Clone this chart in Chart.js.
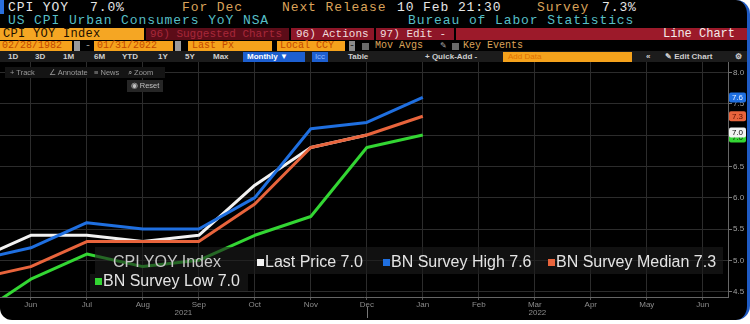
<!DOCTYPE html>
<html>
<head>
<meta charset="utf-8">
<script src="https://cdn.jsdelivr.net/npm/chart.js@4.4.1/dist/chart.umd.min.js"></script>
<style>
  html, body { margin: 0; padding: 0; background: #fff; }
  body { width: 750px; height: 324px; overflow: hidden; position: relative; }
  .panel { position: absolute; left: 0; top: 0; width: 747px; height: 320px; background: #000;
           border-right: 3px solid #1f5bc4; border-radius: 0 14px 14px 12px; overflow: hidden; }
  .t { position: absolute; white-space: nowrap; }
  .mono { font-family: "Liberation Mono", "DejaVu Sans Mono", monospace; }
  .sans { font-family: "Liberation Sans", Arial, sans-serif; }
  .r1 { top: 1px; line-height: 14px; font-size: 13px; letter-spacing: 0.9px; }
  .r2 { top: 14px; line-height: 14px; font-size: 13px; letter-spacing: 0.9px; color: #56bfc6; }
  .wh { color: #e6e6e6; }
  .tan { color: #dba35a; }
  .box { position: absolute; }
  .r3 { top: 28px; height: 12px; line-height: 12px; font-size: 11px; }
  .r4 { top: 41px; height: 10px; line-height: 10px; font-size: 10px; }
  .orng { background: #f5a21c; color: #c44800; }
  .r5 { top: 52px; line-height: 10px; font-size: 8px; color: #cfcfcf; font-weight: bold; }
  .tool { font-size: 7.5px; color: #9a9a9a; line-height: 11px; }
  #wrap { position: absolute; left: 0; top: 62px; width: 750px; height: 258px; }
  .leg { font-family: "Liberation Sans", Arial, sans-serif; font-size: 16px; color: #e4e4e4; line-height: 18px; }
  .sq { display: inline-block; width: 7px; height: 7px; margin-right: 1px; vertical-align: 1px; }
  .legbg { position: absolute; background: rgba(28, 28, 28, 0.6); }
</style>
</head>
<body>
<div class="panel">
  <div class="box" style="left:0;top:0;width:4px;height:14px;background:#2a70e0"></div>

  <!-- header row 1 -->
  <span class="t mono r1 wh" style="left:8px">CPI YOY</span>
  <span class="t mono r1 wh" style="left:90px">7.0%</span>
  <span class="t mono r1 tan" style="left:182px">For Dec</span>
  <span class="t mono r1 tan" style="left:282px">Next Release</span>
  <span class="t mono r1 wh" style="left:397px">10 Feb 21:30</span>
  <span class="t mono r1 tan" style="left:537px">Survey</span>
  <span class="t mono r1 wh" style="left:602px">7.3%</span>

  <!-- header row 2 -->
  <span class="t mono r2" style="left:8px">US CPI Urban Consumers YoY NSA</span>
  <span class="t mono r2" style="left:408px">Bureau of Labor Statistics</span>

  <!-- header row 3 -->
  <div class="box mono r3" style="left:0;width:144px;background:#f5a623;color:#1a0f00;font-size:12px;letter-spacing:0.3px;padding-left:3px;box-sizing:border-box">CPI YOY Index</div>
  <div class="box mono r3" style="left:146px;width:143px;background:#5c0c18;color:#a8283a;padding-left:4px;box-sizing:border-box">96) Suggested Charts</div>
  <div class="box mono r3" style="left:291px;width:83px;background:#8e1628;color:#f0dede;padding-left:5px;box-sizing:border-box">96) Actions -</div>
  <div class="box mono r3" style="left:376px;width:78px;background:#8e1628;color:#f0dede;padding-left:4px;box-sizing:border-box">97) Edit -</div>
  <div class="box mono r3" style="left:456px;width:291px;background:#9c1a2a;color:#f4eaea;text-align:right;padding-right:12px;box-sizing:border-box;font-size:12px">Line Chart</div>

  <!-- header row 4 -->
  <div class="box mono r4 orng" style="left:0;width:72px;padding-left:2px;box-sizing:border-box">02/28/1982</div>
  <div class="box r4" style="left:74px;width:6px;background:#9a9a9a"></div>
  <span class="t mono r4" style="left:85px;color:#999">-</span>
  <div class="box mono r4 orng" style="left:94px;width:79px;padding-left:3px;box-sizing:border-box">01/31/2022</div>
  <div class="box r4" style="left:175px;width:6px;background:#9a9a9a"></div>
  <div class="box mono r4 orng" style="left:188px;width:84px;padding-left:4px;box-sizing:border-box">Last Px</div>
  <div class="box mono r4 orng" style="left:277px;width:68px;padding-left:3px;box-sizing:border-box">Local CCY</div>
  <div class="box mono r4" style="left:349px;width:6px;background:#8a8a8a;color:#222;text-align:center">-</div>
  <div class="box r4" style="left:362px;width:7px;height:7px;top:43px;background:#6a6a6a"></div>
  <span class="t mono r4 tan" style="left:375px">Mov Avgs</span>
  <span class="t sans r4" style="left:440px;color:#aaa;font-size:8px">&#9998;</span>
  <div class="box r4" style="left:452px;width:7px;height:7px;top:43px;background:#6a6a6a"></div>
  <span class="t mono r4 tan" style="left:463px">Key Events</span>

  <!-- header row 5 -->
  <div class="box" style="left:0;top:51px;width:747px;height:11px;background:#1c1c1c"></div>
  <span class="t sans r5" style="left:8px">1D</span>
  <span class="t sans r5" style="left:35px">3D</span>
  <span class="t sans r5" style="left:63px">1M</span>
  <span class="t sans r5" style="left:94px">6M</span>
  <span class="t sans r5" style="left:122px">YTD</span>
  <span class="t sans r5" style="left:158px">1Y</span>
  <span class="t sans r5" style="left:185px">5Y</span>
  <span class="t sans r5" style="left:213px">Max</span>
  <div class="box sans r5" style="left:243px;width:62px;height:10px;background:#1d5fd0;color:#fff;padding-left:4px;box-sizing:border-box">Monthly &#9660;</div>
  <div class="box sans r5" style="left:312px;width:16px;height:10px;background:#1d5fd0;color:#8fb8ff;text-align:center;font-weight:normal">Icc</div>
  <span class="t sans r5" style="left:348px">Table</span>
  <span class="t sans r5" style="left:425px">+ Quick-Add -</span>
  <div class="box sans r5" style="left:503px;width:129px;height:10px;background:#f5a21c;color:#e07000;padding-left:5px;box-sizing:border-box;font-weight:normal">Add Data</div>
  <span class="t sans r5" style="left:646px">&laquo;</span>
  <span class="t sans r5" style="left:665px">&#9998; Edit Chart</span>
  <span class="t sans r5" style="left:735px">&#9881;</span>

  <div id="wrap"><canvas id="myChart" width="750" height="258"></canvas></div>

  <!-- chart toolbar -->
  <div class="box" style="left:5px;top:67px;width:160px;height:11px;background:#141414"></div>
  <span class="t sans tool" style="left:10px;top:67px">+ Track</span>
  <span class="t sans tool" style="left:49px;top:67px">&#8736; Annotate</span>
  <span class="t sans tool" style="left:94px;top:67px">&#8801; News</span>
  <span class="t sans tool" style="left:128px;top:67px">&#8981; Zoom</span>
  <div class="box sans tool" style="left:127px;top:80px;width:36px;height:12px;line-height:12px;background:#262626;color:#c0c0c0;text-align:center">&#9673; Reset</div>

  <!-- legend -->
  <div class="legbg" style="left:95px;top:247px;width:628px;height:27px"></div>
  <div class="legbg" style="left:90px;top:274px;width:158px;height:17px"></div>
  <div id="legend"></div>
</div>

<script>
// months on the x axis (index 0 = May 2021)
const monthLabels = ['May', 'Jun', 'Jul', 'Aug', 'Sep', 'Oct', 'Nov', 'Dec', 'Jan', 'Feb', 'Mar', 'Apr', 'May', 'Jun'];
const yearLabels = ['2021', '2022'];
const yearBreak = 7; // Dec 2021 tick marks the year change

// series values, one per month starting at May 2021
const lastPrice    = [5.0, 5.4, 5.4, 5.3, 5.4, 6.2, 6.8, 7.0];
const surveyHigh   = [5.0, 5.2, 5.6, 5.5, 5.5, 6.0, 7.1, 7.2, 7.6];
const surveyMedian = [4.7, 4.9, 5.3, 5.3, 5.3, 5.9, 6.8, 7.0, 7.3];
const surveyLow    = [4.1, 4.7, 5.1, 4.9, 5.0, 5.4, 5.7, 6.8, 7.0];

const yTicks = [4.5, 5.0, 5.5, 6.0, 6.5, 7.0, 7.5, 8.0];

const toPts = arr => arr.map((v, i) => ({x: i, y: v}));

const series = [
    {label: 'BN Survey High',   data: surveyHigh,   color: '#1f6fe0', text: '#e8f0ff', order: 1},
    {label: 'BN Survey Median', data: surveyMedian, color: '#e8643c', text: '#5a0d00', order: 2},
    {label: 'BN Survey Low',    data: surveyLow,    color: '#33d633', text: '#062006', order: 3},
    {label: 'Last Price',       data: lastPrice,    color: '#f2f2f2', text: '#000',    order: 4}
];

// legend (html overlay)
const legend = document.getElementById('legend');
const legendItems = [
    {text: 'CPI YOY Index', left: 113, top: 253},
    {s: series[3], left: 257, top: 253},
    {s: series[0], left: 383, top: 253},
    {s: series[1], left: 548, top: 253},
    {s: series[2], left: 95,  top: 272}
];
legendItems.forEach(function(it){
    const el = document.createElement('span');
    el.className = 't leg';
    el.style.left = it.left + 'px';
    el.style.top = it.top + 'px';
    if (it.s) {
        const sq = document.createElement('span');
        sq.className = 'sq';
        sq.style.background = it.s.color;
        el.appendChild(sq);
        el.appendChild(document.createTextNode(it.s.label + ' ' + it.s.data[it.s.data.length - 1].toFixed(1)));
    } else {
        el.style.color = '#c8c8c8';
        el.textContent = it.text;
    }
    legend.appendChild(el);
});

// right axis labels, last value badges, year labels
const extras = {
    id: 'extras',
    afterDraw(chart) {
        const {ctx, chartArea, scales: {x, y}} = chart;
        ctx.save();
        ctx.font = '8px "Liberation Sans", Arial, sans-serif';
        ctx.textBaseline = 'middle';
        ctx.fillStyle = '#a0a0a0';
        yTicks.forEach(v => ctx.fillText(v.toFixed(1), chartArea.right + 5, y.getPixelForValue(v)));

        // year separator + year labels
        const xb = x.getPixelForValue(yearBreak);
        ctx.strokeStyle = '#777';
        ctx.lineWidth = 1;
        ctx.beginPath();
        ctx.moveTo(Math.round(xb) + 0.5, chartArea.bottom + 10);
        ctx.lineTo(Math.round(xb) + 0.5, chartArea.bottom + 21);
        ctx.stroke();
        ctx.textAlign = 'center';
        ctx.fillStyle = '#8c8c8c';
        ctx.fillText(yearLabels[0], (chartArea.left + xb) / 2, chartArea.bottom + 16);
        ctx.fillText(yearLabels[1], (xb + chartArea.right) / 2 - 10, chartArea.bottom + 16);

        // badges: low first so last price sits over it
        const badge = (s, dy) => {
            const v = s.data[s.data.length - 1];
            const py = y.getPixelForValue(v) + dy;
            ctx.fillStyle = s.color;
            ctx.beginPath();
            ctx.roundRect(chartArea.right + 1, py - 5, 17, 10, 2);
            ctx.fill();
            ctx.fillStyle = s.text;
            ctx.fillText(v.toFixed(1), chartArea.right + 9.5, py + 0.5);
        };
        badge(series[2], 2.5);
        badge(series[3], -2.5);
        badge(series[1], 0);
        badge(series[0], 0);
        ctx.restore();
    }
};

const ctx = document.getElementById('myChart');

new Chart(ctx, {
    type: 'line',
    data: {
        datasets: series.map(s => ({
            label: s.label,
            data: toPts(s.data),
            borderColor: s.color,
            backgroundColor: s.color,
            borderWidth: 3,
            pointRadius: 0,
            tension: 0,
            borderJoinStyle: 'round',
            order: s.order
        }))
    },
    options: {
        responsive: false,
        animation: false,
        events: [],
        layout: { padding: 0 },
        plugins: { legend: { display: false }, tooltip: { enabled: false } },
        scales: {
            x: {
                type: 'linear',
                min: 0.45,
                max: 13.45,
                afterBuildTicks: s => { s.ticks = monthLabels.map((m, i) => ({value: i})).filter(t => t.value >= 1); },
                afterFit: s => { s.height = 23; },
                grid: { color: '#2c2c2c', tickLength: 3, tickColor: '#555' },
                border: { color: '#666' },
                ticks: {
                    autoSkip: false, maxRotation: 0, padding: 0,
                    color: '#8c8c8c',
                    font: { size: 8, family: '"Liberation Sans", Arial, sans-serif' },
                    callback: v => monthLabels[v]
                }
            },
            y: {
                position: 'right',
                min: 4.415,
                max: 8.165,
                afterBuildTicks: s => { s.ticks = yTicks.map(v => ({value: v})); },
                afterFit: s => { s.width = 22; },
                grid: { color: '#2c2c2c', tickLength: 4, tickColor: '#777' },
                border: { color: '#666' },
                ticks: { display: false }
            }
        }
    },
    plugins: [extras]
});
</script>
</body>
</html>
